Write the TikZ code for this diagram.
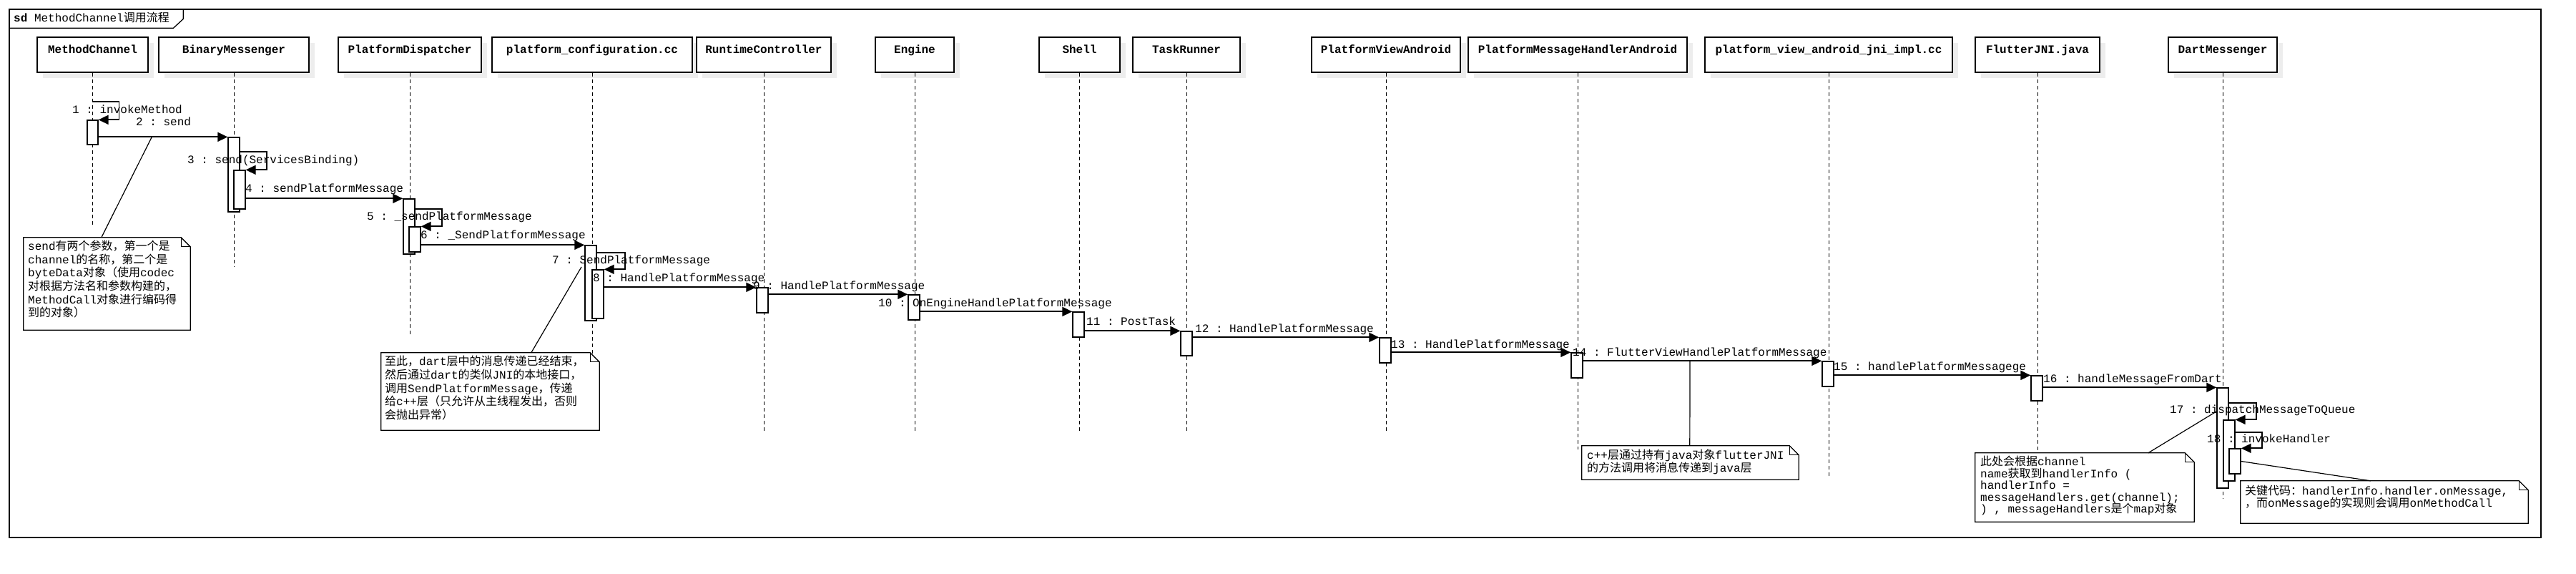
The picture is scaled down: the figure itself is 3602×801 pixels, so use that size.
\documentclass[tikz,border=0pt]{standalone}
\usepackage{fontspec}
\setmonofont{Liberation Mono}
\newfontfamily\cjk{Noto Sans CJK SC}
\usetikzlibrary{arrows.meta}
\newcommand\zh[1]{{\cjk #1}}
\tikzset{
  frameline/.style={line width=1.3pt},
  hdr/.style={draw, line width=1.3pt, fill=white, inner sep=0pt},
  hdrshadow/.style={fill=black!7},
  hdrtxt/.style={font=\ttfamily\bfseries\fontsize{16}{18}\selectfont, anchor=base, inner sep=0pt},
  life/.style={line width=1pt, dash pattern=on 5pt off 4pt},
  act/.style={draw, line width=1.3pt, fill=white, inner sep=0pt},
  msg/.style={line width=1.8pt, -{Triangle[length=14pt,width=13pt]}},
  lbl/.style={font=\ttfamily\fontsize{16}{18}\selectfont, anchor=base west, inner sep=0pt},
  noteline/.style={line width=1.3pt, fill=white},
  notetxt/.style={anchor=north west, inner sep=0pt, align=left},
  conn/.style={line width=1.2pt},
}
\newcommand\hdrbox[5]{%
  \fill[hdrshadow] ({#2+8},60) rectangle ({#3+8},109);
  \node[hdr, minimum width={#3-#2}, minimum height=49] (#1) at ({(#2+#3)/2},76.5) {};
  \node[hdrtxt] (#1-t) at ({(#2+#3)/2},74) {#4};
  \coordinate (#1-e) at ({(#2+#3)/2},#5);
  \draw[life] (#1.south) -- (#1-e);
}
\newcommand\actbox[5]{%
  \node[act, minimum width={#4-#2}, minimum height={#5-#3}] (#1) at ({(#2+#4)/2},{(#3+#5)/2}) {};
}
\newcommand\notebox[5]{%
  \node[inner sep=0pt, minimum width={#4-#2}, minimum height={#5-#3}] (#1) at ({(#2+#4)/2},{(#3+#5)/2}) {};
  \draw[noteline] (#1.north west) -- ([xshift=-13pt]#1.north east) -- ([yshift=-13pt]#1.north east) -- (#1.south east) -- (#1.south west) -- cycle;
  \draw[line width=1pt] ([xshift=-13pt]#1.north east) -- ([xshift=-13pt,yshift=-13pt]#1.north east) -- ([yshift=-13pt]#1.north east);
}
\begin{document}
\begin{tikzpicture}[x=1pt,y=-1pt]
\useasboundingbox (0,0) rectangle (3602,801);
\fill[white] (0,0) rectangle (3602,801);
% frame
\node[draw, frameline, inner sep=0pt, minimum width=3540, minimum height=738] (frame) at (1783,382) {};
\draw[frameline] ([yshift=-27pt]frame.north west) -- ++(230,0) -- ++(14,-13) -- ++(0,-14);
\node[anchor=base west, inner sep=0pt, font=\ttfamily\fontsize{16}{18}\selectfont] (title) at (19,30) {\textbf{sd} MethodChannel\zh{调用流程}};
% lifelines
\hdrbox{mc}{52}{207}{MethodChannel}{315}
\hdrbox{bm}{222}{432}{BinaryMessenger}{373}
\hdrbox{pd}{473}{673}{PlatformDispatcher}{467}
\hdrbox{pc}{688}{968}{platform\_configuration.cc}{602}
\hdrbox{rc}{974}{1162}{RuntimeController}{602}
\hdrbox{en}{1224}{1334}{Engine}{602}
\hdrbox{sh}{1453}{1566}{Shell}{602}
\hdrbox{tr}{1584}{1734}{TaskRunner}{602}
\hdrbox{pv}{1834}{2042}{PlatformViewAndroid}{602}
\hdrbox{pm}{2053}{2359}{PlatformMessageHandlerAndroid}{628}
\hdrbox{pj}{2384}{2730}{platform\_view\_android\_jni\_impl.cc}{667}
\hdrbox{fj}{2762}{2936}{FlutterJNI.java}{632}
\hdrbox{dm}{3032}{3184}{DartMessenger}{697}
% activations
\actbox{mc1}{122}{168}{137}{202}
\actbox{bm1}{319}{192}{335}{296}
\actbox{bm2}{327}{238}{343}{292}
\actbox{pd1}{564}{278}{580}{355}
\actbox{pd2}{572}{317}{588}{352}
\actbox{pc1}{818}{343}{834}{448}
\actbox{pc2}{828}{377}{844}{445}
\actbox{rc1}{1058}{402}{1074}{437}
\actbox{en1}{1270}{412}{1286}{447}
\actbox{sh1}{1500}{436}{1516}{471}
\actbox{tr1}{1651}{463}{1667}{497}
\actbox{pv1}{1929}{472}{1945}{507}
\actbox{pm1}{2197}{493}{2213}{528}
\actbox{pj1}{2548}{505}{2564}{540}
\actbox{fj1}{2840}{525}{2856}{560}
\actbox{dm1}{3100}{542}{3116}{682}
\actbox{dm2}{3109}{587}{3125}{672}
\actbox{dm3}{3117}{627}{3133}{662}
% messages
\draw[msg] (mc.south |- 0,142) -- ++(37,0) |- (mc1.north east);
\draw[msg] (mc1.east |- bm1.north) -- (bm1.north west);
\draw[msg] (bm1.east |- 0,212) -- ++(37,0) |- (bm2.north east);
\draw[msg] (bm2.east |- pd1.north) -- (pd1.north west);
\draw[msg] (pd1.east |- 0,292) -- ++(37,0) |- (pd2.north east);
\draw[msg] (pd2.east |- pc1.north) -- (pc1.north west);
\draw[msg] (pc1.east |- 0,353) -- ++(39,0) |- (pc2.north east);
\draw[msg] (pc2.east |- rc1.north) -- (rc1.north west);
\draw[msg] (rc1.east |- en1.north) -- (en1.north west);
\draw[msg] (en1.east |- sh1.north) -- (sh1.north west);
\draw[msg] (sh1.east |- tr1.north) -- (tr1.north west);
\draw[msg] (tr1.east |- pv1.north) -- (pv1.north west);
\draw[msg] (pv1.east |- pm1.north) -- (pm1.north west);
\draw[msg] (pm1.east |- pj1.north) -- (pj1.north west);
\draw[msg] (pj1.east |- fj1.north) -- (fj1.north west);
\draw[msg] (fj1.east |- dm1.north) -- (dm1.north west);
\draw[msg] (dm1.east |- 0,563) -- ++(38,0) |- (dm2.north east);
\draw[msg] (dm2.east |- 0,604) -- ++(37,0) |- (dm3.north east);
% labels
\node[lbl] (l1) at (101,158) {1 : invokeMethod};
\node[lbl] (l2) at (190,175) {2 : send};
\node[lbl] (l3) at (262,228) {3 : send(ServicesBinding)};
\node[lbl] (l4) at (343,268) {4 : sendPlatformMessage};
\node[lbl] (l5) at (513,307) {5 : \_sendPlatformMessage};
\node[lbl] (l6) at (588,333) {6 : \_SendPlatformMessage};
\node[lbl] (l7) at (772,368) {7 : SendPlatformMessage};
\node[lbl] (l8) at (829,393) {8 : HandlePlatformMessage};
\node[lbl] (l9) at (1053,404) {9 : HandlePlatformMessage};
\node[lbl] (l10) at (1228,428) {10 : OnEngineHandlePlatformMessage};
\node[lbl] (l11) at (1519,454) {11 : PostTask};
\node[lbl] (l12) at (1671,464) {12 : HandlePlatformMessage};
\node[lbl] (l13) at (1945,486) {13 : HandlePlatformMessage};
\node[lbl] (l14) at (2199,497) {14 : FlutterViewHandlePlatformMessage};
\node[lbl] (l15) at (2564,517) {15 : handlePlatformMessagege};
\node[lbl] (l16) at (2857,534) {16 : handleMessageFromDart};
\node[lbl] (l17) at (3034,577) {17 : dispatchMessageToQueue};
\node[lbl] (l18) at (3086,618) {18 : invokeHandler};
% notes
\coordinate (c1) at (212,192);
\coordinate (c2) at (813,373);
\coordinate (c3) at (2363,505);
\coordinate (c4) at (3099,575);
\notebox{n1}{33}{332}{266}{461}
\draw[conn] (n1.north west) ++(109,0) -- (c1);
\node[notetxt, font={\ttfamily\fontsize{16}{18.6}\selectfont\lineskiplimit=-50pt}] (n1t) at (39,336) {send\zh{有两个参数，第一个是}\\channel\zh{的名称，第二个是}\\byteData\zh{对象（使用}codec\\\zh{对根据方法名和参数构建的，}\\MethodCall\zh{对象进行编码得}\\\zh{到的对象）}};
\notebox{n2}{533}{493}{838}{601}
\draw[conn] (n2.north west) ++(210,0) -- (c2);
\node[notetxt, font={\ttfamily\fontsize{16}{18.7}\selectfont\lineskiplimit=-50pt}] (n2t) at (538,497) {\zh{至此，}dart\zh{层中的消息传递已经结束，}\\\zh{然后通过}dart\zh{的类似}JNI\zh{的本地接口，}\\\zh{调用}SendPlatformMessage\zh{，传递}\\\zh{给}c++\zh{层（只允许从主线程发出，否则}\\\zh{会抛出异常）}};
\notebox{n3}{2212}{623}{2515}{670}
\draw[conn] (n3.north west) ++(151,0) -- (c3);
\node[notetxt, font={\ttfamily\fontsize{16}{18}\selectfont\lineskiplimit=-50pt}] (n3t) at (2219,628) {c++\zh{层通过持有}java\zh{对象}flutterJNI\\\zh{的方法调用将消息传递到}java\zh{层}};
\notebox{n4}{2762}{633}{3068}{729}
\draw[conn] (n4.north west) ++(242,0) -- (c4);
\node[notetxt, font={\ttfamily\fontsize{16}{16.5}\selectfont\lineskiplimit=-50pt}] (n4t) at (2769,637) {\zh{此处会根据}channel\\name\zh{获取到}handlerInfo (\\handlerInfo =\\messageHandlers.get(channel);\\) , messageHandlers\zh{是个}map\zh{对象}};
\notebox{n5}{3133}{672}{3535}{731}
\draw[conn] (dm3.east) -- ([xshift=182pt]n5.north west);
\node[notetxt, font={\ttfamily\fontsize{16}{17}\selectfont\lineskiplimit=-50pt}] (n5t) at (3139,678) {\zh{关键代码：}handlerInfo.handler.onMessage,\\\zh{，而}onMessage\zh{的实现则会调用}onMethodCall};
\end{tikzpicture}
\end{document}
